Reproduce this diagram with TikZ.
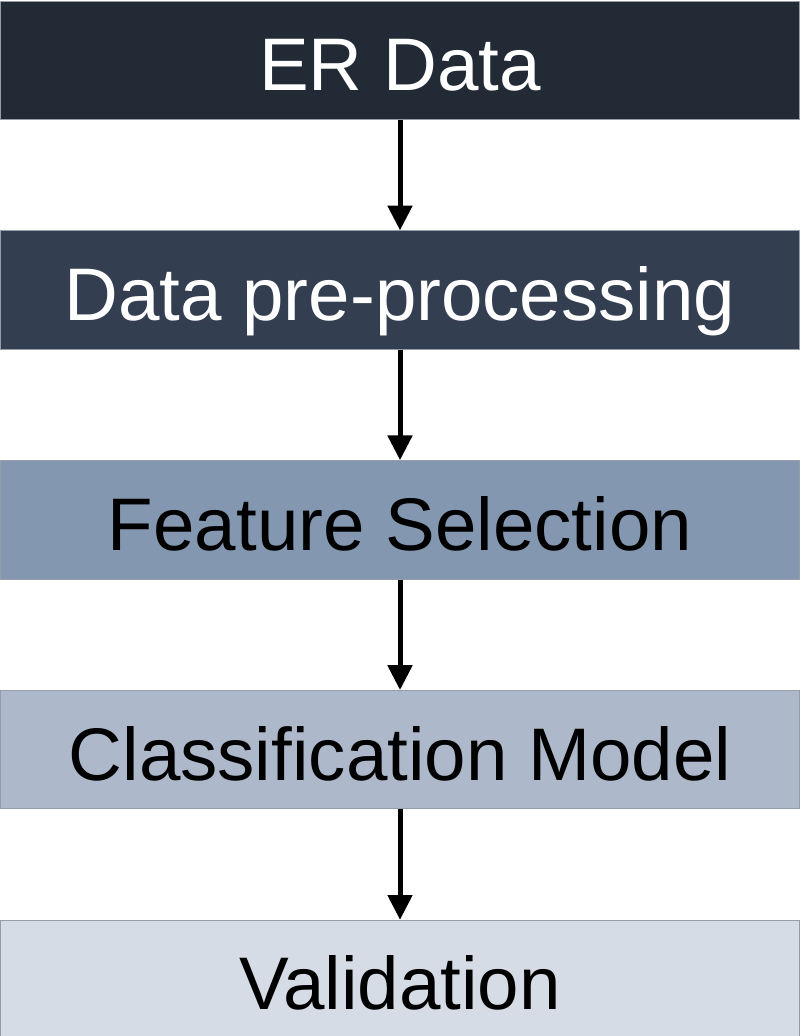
\documentclass[tikz,border=0pt]{standalone}
\usepackage{fontspec}
\setmainfont{Liberation Sans}
\usepackage{xcolor}
\usetikzlibrary{positioning, arrows.meta}
\definecolor{stepDark}{HTML}{222A35}
\definecolor{stepNavy}{HTML}{333F50}
\definecolor{stepSteel}{HTML}{8497B0}
\definecolor{stepGrey}{HTML}{ADB9CA}
\definecolor{stepPale}{HTML}{D6DCE5}
\definecolor{edgeGrey}{HTML}{6B7380}

\begin{document}
\begin{tikzpicture}[
  every node/.style={font=\fontsize{53}{63}\selectfont},
  stagebox/.style={rectangle, draw=edgeGrey!70, line width=0.25mm,
              minimum width=199.5mm, minimum height=29.6mm,
              text height=16mm, text depth=0.8mm,
              align=center, inner sep=0pt},
  flow/.style={-{Triangle[length=6.2mm, width=6mm]}, black, line width=1.25mm},
]
  \useasboundingbox (-100mm, 0) rectangle (100mm, -259mm);

  \node[stagebox, fill=stepDark, text=white, anchor=north] at (0, -0.15mm) (erdata) {ER Data};
  \node[stagebox, fill=stepNavy, text=white, below=27.6mm of erdata] (prep) {Data pre-processing};
  \node[stagebox, fill=stepSteel, text=black, below=27.6mm of prep] (feat) {Feature Selection};
  \node[stagebox, fill=stepGrey, text=black, below=27.6mm of feat] (clf) {Classification Model};
  \node[stagebox, fill=stepPale, text=black, below=27.6mm of clf] (valid) {Validation};

  \draw[flow] (erdata) -- (prep);
  \draw[flow] (prep) -- (feat);
  \draw[flow] (feat) -- (clf);
  \draw[flow] (clf) -- (valid);
\end{tikzpicture}
\end{document}
